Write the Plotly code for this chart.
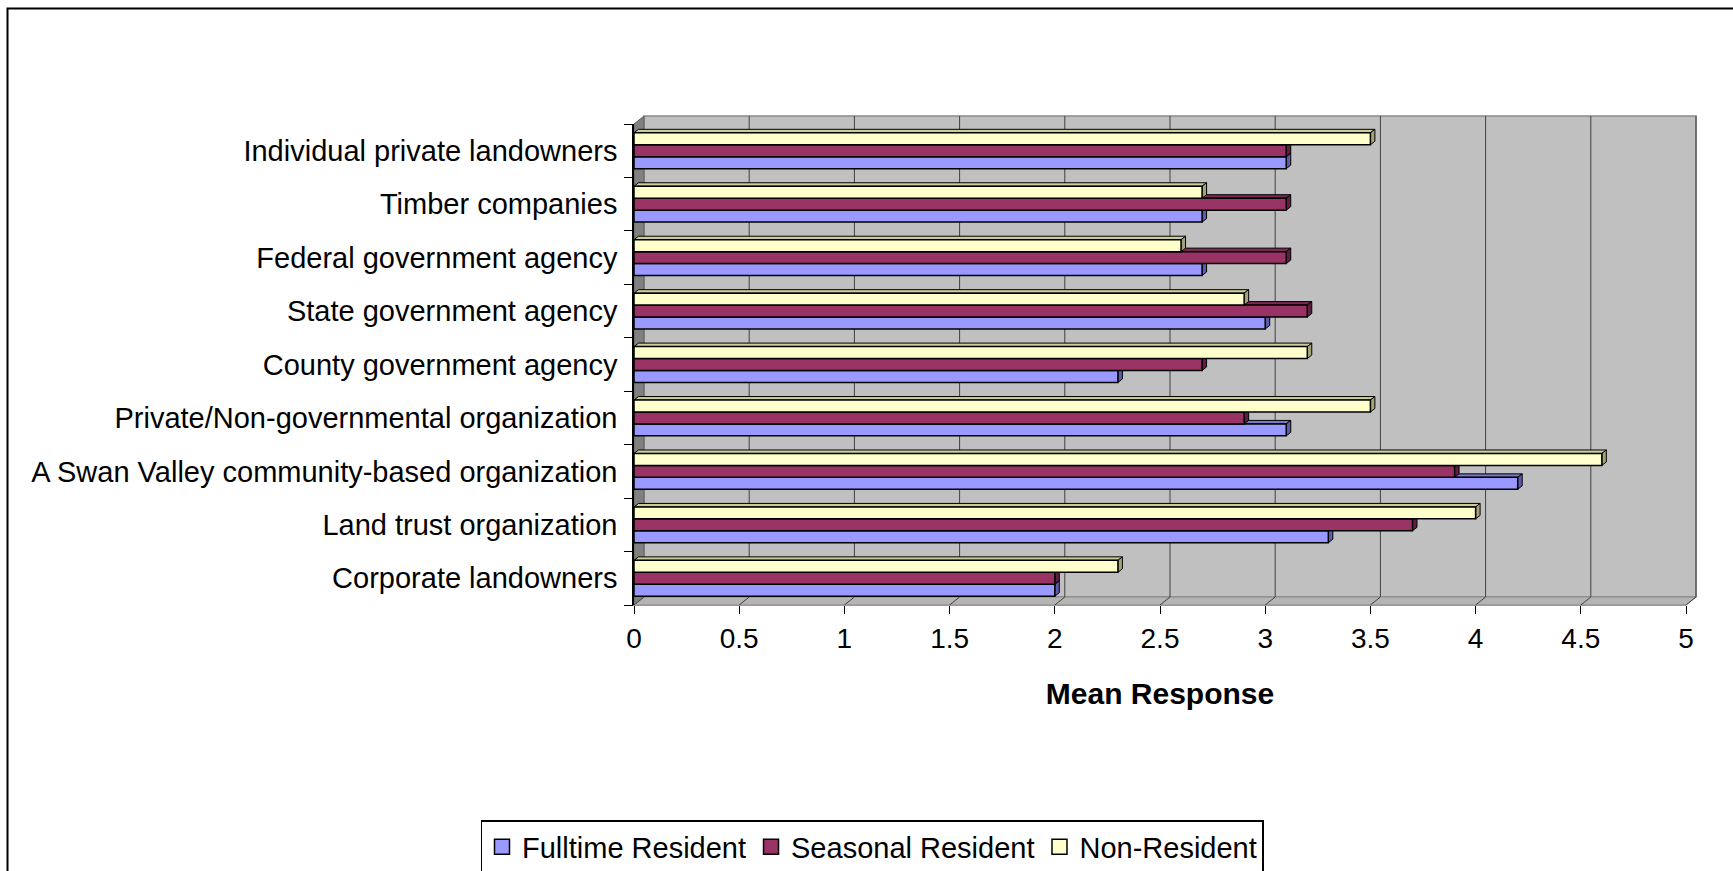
import plotly.graph_objects as go

# ---------------- data ----------------
categories = [
    "Individual private landowners",
    "Timber companies",
    "Federal government agency",
    "State government agency",
    "County government agency",
    "Private/Non-governmental organization",
    "A Swan Valley community-based organization",
    "Land trust organization",
    "Corporate landowners",
]
fulltime = [3.1, 2.7, 2.7, 3.0, 2.3, 3.1, 4.2, 3.3, 2.0]
seasonal = [3.1, 3.1, 3.1, 3.2, 2.7, 2.9, 3.9, 3.7, 2.0]
nonresident = [3.5, 2.7, 2.6, 2.9, 3.2, 3.5, 4.6, 4.0, 2.3]
series_names = ["Fulltime Resident", "Seasonal Resident", "Non-Resident"]
x_ticks = [0, 0.5, 1, 1.5, 2, 2.5, 3, 3.5, 4, 4.5, 5]
x_tick_labels = ["0", "0.5", "1", "1.5", "2", "2.5", "3", "3.5", "4", "4.5", "5"]
x_title = "Mean Response"

# ---------------- style / layout constants ----------------
W, H = 1733, 871
L, R, T, B = 634, 1686, 124, 605          # plot area in pixels
DX, DY = 10, 8                            # wall depth (px)
BDX, BDY = 4.5, 3.5                       # bar depth (px)
FONT = "Liberation Sans, Arial, sans-serif"
face_colors = ["#9999FF", "#993366", "#FFFFCC"]
top_colors = ["#7777CC", "#7A2952", "#CCCC99"]
side_colors = ["#5C5CA8", "#5E1F3F", "#A3A37A"]

n = len(categories)
positions = [n - 1 - i for i in range(n)]   # first category at top
series = [fulltime, seasonal, nonresident]
gap = 0.33
bw = (1 - gap) / 3
xmax = x_ticks[-1]
sx = (R - L) / xmax                        # px per unit
sy = (B - T) / n                           # px per category
bdx = BDX / sx
bdy = BDY / sy


def pxx(px):
    return (px - L) / (R - L)


def pxy(py):
    return (B - py) / (B - T)


fig = go.Figure()

for k, (name, vals) in enumerate(zip(series_names, series)):
    fig.add_trace(go.Bar(
        y=positions, x=vals, orientation="h", name=name,
        width=bw, offset=-1.5 * bw + k * bw,
        marker=dict(color=face_colors[k], line=dict(color="black", width=1.5)),
        hoverinfo="x+name", showlegend=False, legendgroup=name,
    ))

# legend entries (square swatches like the original)
for k, name in enumerate(series_names):
    fig.add_trace(go.Scatter(
        x=[None], y=[None], mode="markers", name=name, legendgroup=name,
        marker=dict(symbol="square", size=15, color=face_colors[k],
                    line=dict(color="black", width=1.5)),
        hoverinfo="skip",
    ))

# invisible trace for the boundary-tick axis
fig.add_trace(go.Scatter(x=[None], y=[None], yaxis="y2", showlegend=False,
                         hoverinfo="skip"))

shapes = []
# back wall
shapes.append(dict(type="rect", xref="paper", yref="paper", layer="below",
                   x0=pxx(L + DX), x1=pxx(R + DX), y0=pxy(B - DY), y1=pxy(T - DY),
                   fillcolor="#C0C0C0", line=dict(color="#8A8A8A", width=1.5)))
# left side wall
shapes.append(dict(type="path", xref="paper", yref="paper", layer="below",
                   path=f"M{pxx(L)},{pxy(T)} L{pxx(L+DX)},{pxy(T-DY)} L{pxx(L+DX)},{pxy(B-DY)} L{pxx(L)},{pxy(B)} Z",
                   fillcolor="#808080", line=dict(color="#606060", width=1)))
# floor
shapes.append(dict(type="path", xref="paper", yref="paper", layer="below",
                   path=f"M{pxx(L)},{pxy(B)} L{pxx(L+DX)},{pxy(B-DY)} L{pxx(R+DX)},{pxy(B-DY)} L{pxx(R)},{pxy(B)} Z",
                   fillcolor="#B4B4B4", line=dict(color="#8A8A8A", width=1)))
# gridlines on back wall and floor
for v in x_ticks:
    gx = L + v * sx
    if v > 0:
        shapes.append(dict(type="line", xref="paper", yref="paper", layer="below",
                           x0=pxx(gx + DX), x1=pxx(gx + DX), y0=pxy(B - DY), y1=pxy(T - DY),
                           line=dict(color="#404040", width=1)))
    shapes.append(dict(type="line", xref="paper", yref="paper", layer="below",
                       x0=pxx(gx), x1=pxx(gx + DX), y0=pxy(B), y1=pxy(B - DY),
                       line=dict(color="#404040", width=1)))

# 3D faces of bars
for k, vals in enumerate(series):
    for p, v in zip(positions, vals):
        yb = p - 1.5 * bw + k * bw
        yt = yb + bw
        shapes.append(dict(type="path", xref="x", yref="y", layer="below",
                           path=f"M0,{yt} L{v},{yt} L{v+bdx},{yt+bdy} L{bdx},{yt+bdy} Z",
                           fillcolor=top_colors[k], line=dict(color="black", width=1)))
        shapes.append(dict(type="path", xref="x", yref="y", layer="below",
                           path=f"M{v},{yb} L{v},{yt} L{v+bdx},{yt+bdy} L{v+bdx},{yb+bdy} Z",
                           fillcolor=side_colors[k], line=dict(color="black", width=1)))

# outer chart frame (left and top edges visible)
shapes.append(dict(type="rect", xref="paper", yref="paper", layer="above",
                   x0=pxx(7.5), x1=pxx(W + 20), y0=pxy(H + 20), y1=pxy(8.5),
                   line=dict(color="black", width=2), fillcolor="rgba(0,0,0,0)"))

fig.update_layout(
    width=W, height=H,
    margin=dict(l=L, r=W - R, t=T, b=H - B, pad=0),
    paper_bgcolor="white", plot_bgcolor="rgba(0,0,0,0)",
    font=dict(family=FONT, size=29, color="black"),
    barmode="overlay",
    shapes=shapes,
    xaxis=dict(range=[0, xmax], tickvals=x_ticks, ticktext=x_tick_labels,
               ticks="outside", ticklen=8, tickcolor="black", tickwidth=1,
               showgrid=False, zeroline=False, showline=True, linecolor="#9A9A9A",
               linewidth=1, tickfont=dict(size=28),
               title=dict(text=f"<b>{x_title}</b>", font=dict(size=30), standoff=30)),
    yaxis=dict(range=[-0.5, n - 0.5], tickvals=positions, ticktext=categories,
               ticks="outside", ticklen=9, tickcolor="rgba(0,0,0,0)",
               showgrid=False, zeroline=False, showline=True, linecolor="black",
               linewidth=1.5, tickfont=dict(size=29)),
    yaxis2=dict(range=[-0.5, n - 0.5], overlaying="y", side="left",
                tickvals=[i - 0.5 for i in range(n + 1)], showticklabels=False,
                ticks="outside", ticklen=9, tickcolor="black", tickwidth=1,
                showgrid=False, zeroline=False, showline=False),
    legend=dict(orientation="h", xref="container", yref="container",
                x=872 / W, xanchor="center", y=1 - 820 / H, yanchor="top",
                bgcolor="white", bordercolor="black", borderwidth=1.5,
                font=dict(size=29), traceorder="normal", itemsizing="trace"),
    showlegend=True,
)

fig.write_html("out.html", config={"displayModeBar": False},
               post_script="document.body.style.margin='0px';")
